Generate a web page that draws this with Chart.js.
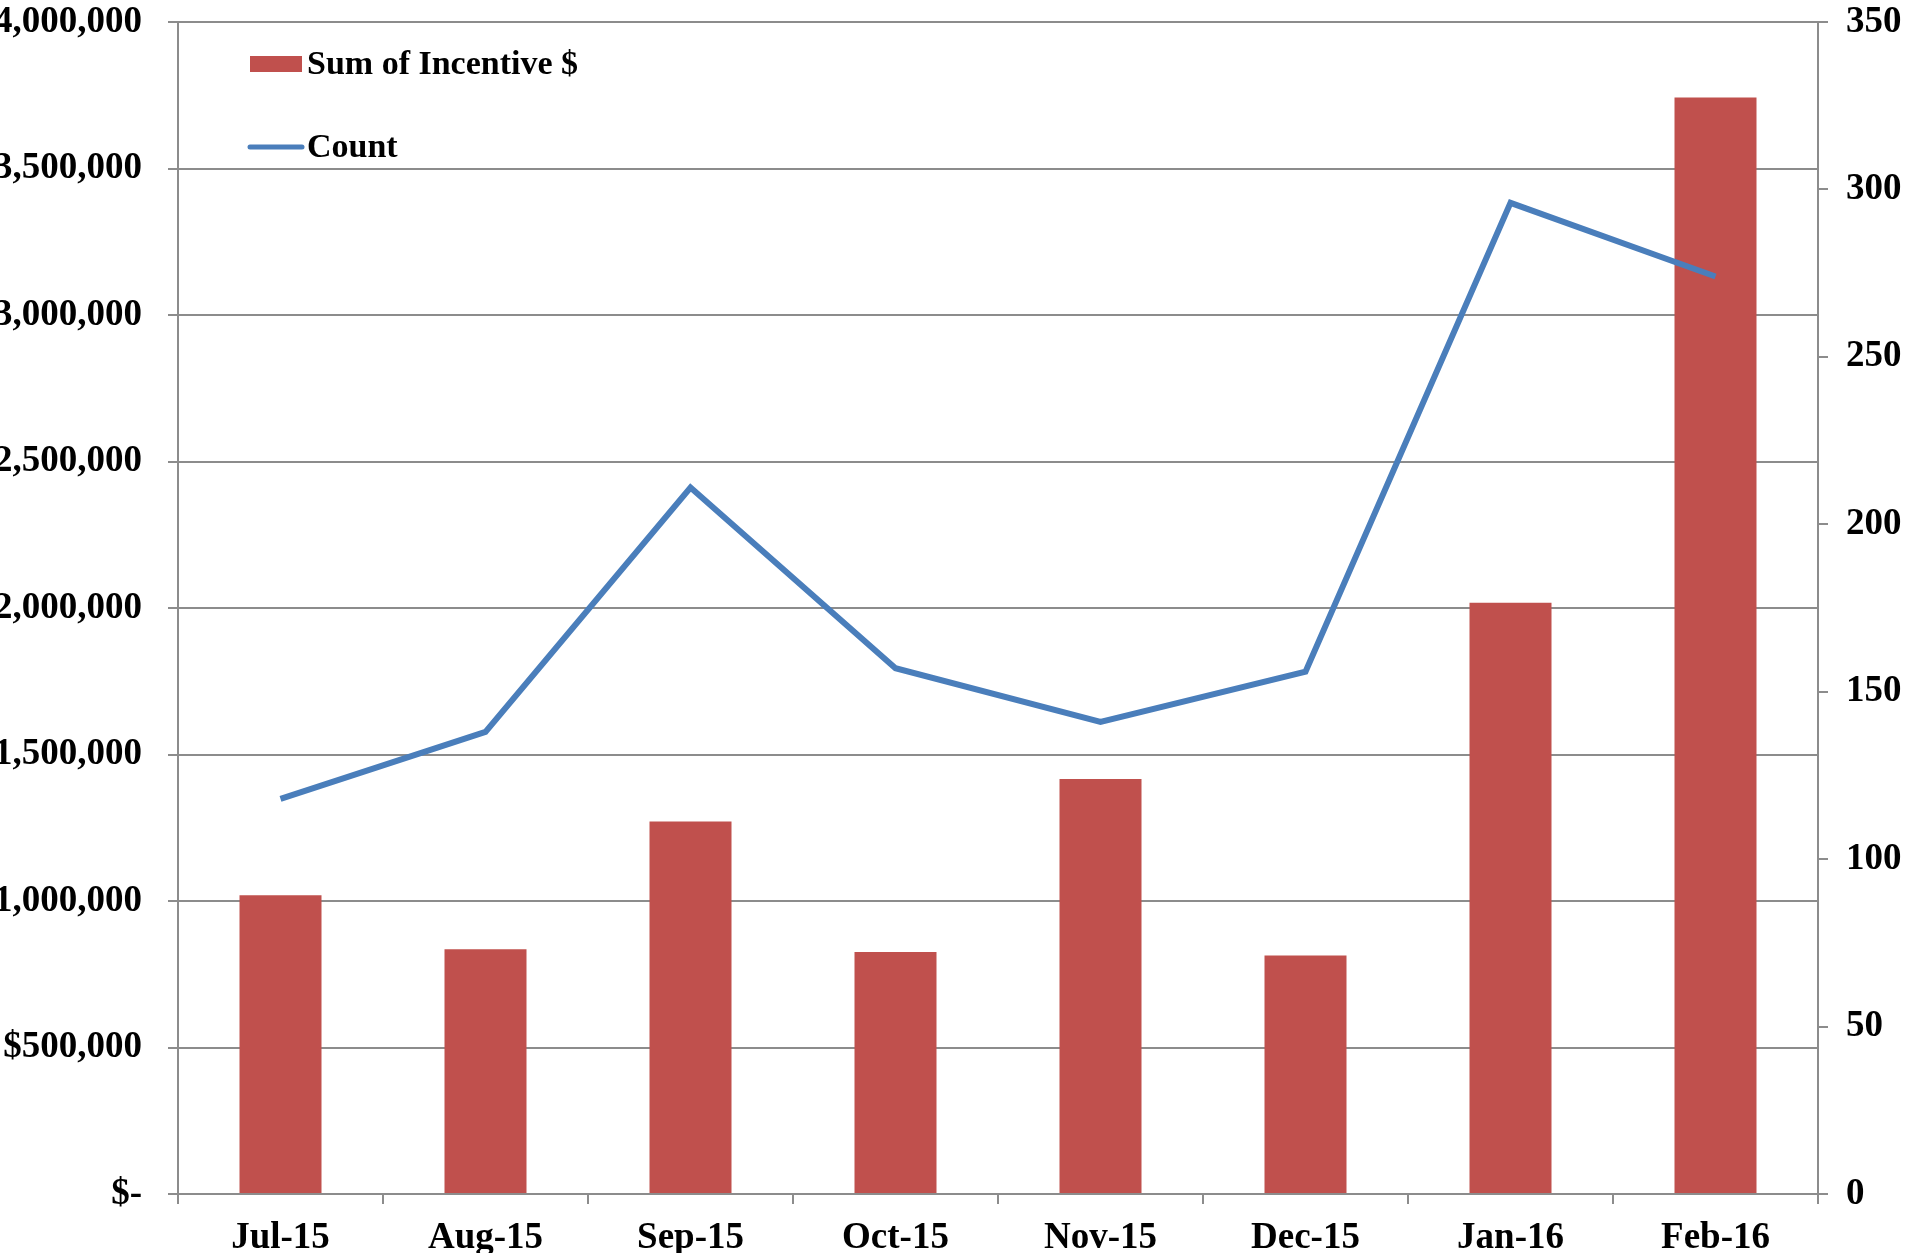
<!DOCTYPE html>
<html>
<head>
<meta charset="utf-8">
<script src="https://cdn.jsdelivr.net/npm/chart.js@4"></script>
<style>
  html, body { margin: 0; padding: 0; background: #fff; overflow: hidden; }
  #chart { display: block; }
</style>
</head>
<body>
<canvas id="chart" width="1909" height="1253"></canvas>
<script>
// données
const months = ["Jul-15", "Aug-15", "Sep-15", "Oct-15", "Nov-15", "Dec-15", "Jan-16", "Feb-16"];
const incentive = [1020000, 835000, 1271000, 826000, 1416000, 814000, 2018000, 3742000];
const counts = [118, 138, 211, 157, 141, 156, 296, 274];
const leftAxis = { min: 0, max: 4000000, step: 500000 };
const rightAxis = { min: 0, max: 350, step: 50 };

const FONT = "'Liberation Serif', 'Times New Roman', serif";
const GRID = "#8c8c8c";
const RED = "#c0504d";
const BLUE = "#4a7ebb";

function money(v) {
  if (v === 0) return "$-";
  return "$" + v.toLocaleString("en-US");
}

// légende dessinée dans la zone du graphique
const insideLegend = {
  id: "insideLegend",
  afterDatasetsDraw(chart) {
    const { ctx, chartArea } = chart;
    const x = chartArea.left + 72;
    const rows = [chartArea.top + 42, chartArea.top + 125];
    ctx.save();
    ctx.font = "bold 34px " + FONT;
    ctx.textBaseline = "middle";
    chart.data.datasets.forEach((ds, i) => {
      const y = rows[i];
      if (ds.type === "line") {
        ctx.strokeStyle = ds.borderColor;
        ctx.lineWidth = 5;
        ctx.lineCap = "round";
        ctx.beginPath();
        ctx.moveTo(x, y);
        ctx.lineTo(x + 52, y);
        ctx.stroke();
      } else {
        ctx.fillStyle = ds.backgroundColor;
        ctx.fillRect(x, y - 8, 52, 16);
      }
      ctx.fillStyle = "#000";
      ctx.fillText(ds.label, x + 57, y + 1);
    });
    ctx.restore();
  },
};

const tickFont = { family: FONT, size: 37, weight: "bold" };

// largeur fixe des axes, sans marge ajoutée pour les libellés
function fixY(width) {
  return (scale) => {
    scale.width = width;
    scale.paddingTop = 0;
    scale.paddingBottom = 0;
  };
}

new Chart(document.getElementById("chart"), {
  type: "bar",
  data: {
    labels: months,
    datasets: [
      {
        type: "bar",
        label: "Sum of Incentive $",
        data: incentive,
        backgroundColor: RED,
        yAxisID: "y",
        order: 1,
        barPercentage: 0.4,
        categoryPercentage: 1,
      },
      {
        type: "line",
        label: "Count",
        data: counts,
        borderColor: BLUE,
        backgroundColor: BLUE,
        borderWidth: 6,
        pointRadius: 0,
        tension: 0,
        yAxisID: "y1",
        order: 0,
      },
    ],
  },
  options: {
    responsive: false,
    animation: false,
    devicePixelRatio: 1,
    layout: { padding: { top: 22, left: 0, right: 0, bottom: 0 } },
    plugins: {
      legend: { display: false },
      tooltip: { enabled: false },
    },
    scales: {
      x: {
        grid: { drawOnChartArea: false, drawTicks: true, tickLength: 10, color: GRID, lineWidth: 2, offset: true },
        border: { color: GRID, width: 2 },
        ticks: { font: tickFont, color: "#000", padding: 12, maxRotation: 0 },
        afterFit(scale) { scale.height = 59; },
      },
      y: {
        position: "left",
        min: leftAxis.min,
        max: leftAxis.max,
        grid: { color: GRID, lineWidth: 2, drawTicks: true, tickLength: 10 },
        border: { color: GRID, width: 2 },
        ticks: {
          stepSize: leftAxis.step,
          font: tickFont,
          color: "#000",
          padding: 26,
          callback: (v) => money(v),
        },
        afterFit: fixY(178),
      },
      y1: {
        position: "right",
        min: rightAxis.min,
        max: rightAxis.max,
        grid: { drawOnChartArea: false, drawTicks: true, tickLength: 10, color: GRID, lineWidth: 2 },
        border: { color: GRID, width: 2 },
        ticks: { stepSize: rightAxis.step, font: tickFont, color: "#000", padding: 18 },
        afterFit: fixY(91),
      },
    },
  },
  plugins: [insideLegend],
});
</script>
</body>
</html>
